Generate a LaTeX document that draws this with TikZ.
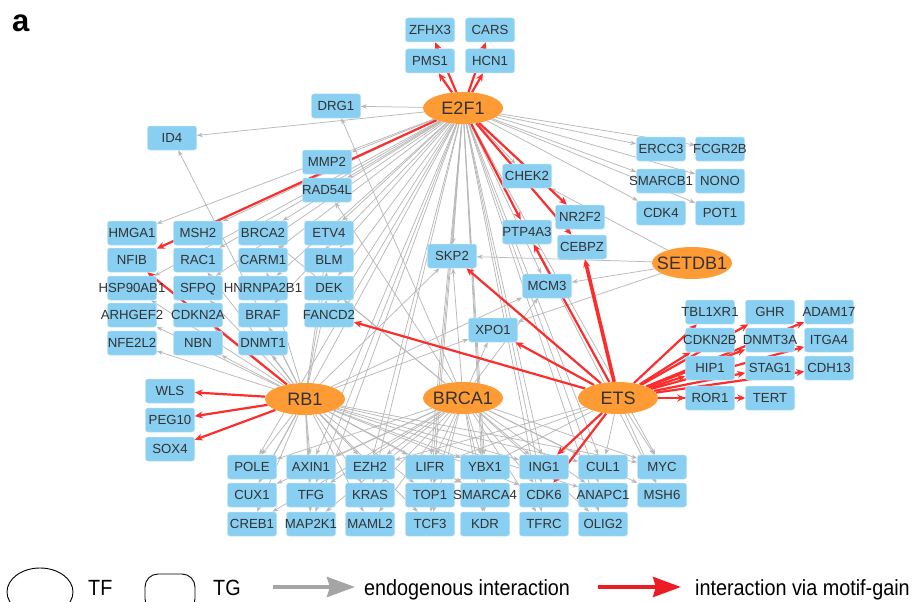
\documentclass[tikz,border=0pt]{standalone}
\usepackage{fontspec}
\setmainfont{Liberation Sans}
\newfontfamily\legendfont[FakeStretch=0.9]{Liberation Sans}
\usetikzlibrary{shapes.geometric,arrows.meta}
\definecolor{tgblue}{RGB}{137,207,241}
\definecolor{tforange}{RGB}{255,155,52}
\definecolor{labelgray}{RGB}{50,50,50}
\definecolor{endogray}{RGB}{184,184,184}
\definecolor{gainred}{RGB}{252,45,45}
\definecolor{keygray}{RGB}{165,165,165}
\definecolor{keyred}{RGB}{237,28,36}
\def\bw{49pt}
\def\bh{24pt}
\def\lbl#1{\makebox[0pt]{#1}}
\tikzset{
  tg/.style={rectangle, rounded corners=2.5pt, fill=tgblue, draw=tgblue!60!white, line width=0.5pt,
    minimum width=\bw, minimum height=\bh, inner sep=0pt, text=labelgray,
    text height=9.5pt, text depth=0pt, font=\fontsize{13.2}{15}\selectfont},
  tf/.style={ellipse, fill=tforange, minimum width=80pt, minimum height=32pt, inner sep=0pt,
    text=labelgray, text height=13pt, text depth=0pt, font=\fontsize{18}{20}\selectfont},
  endo/.style={draw=endogray, line width=0.75pt, -{Stealth[length=6pt,width=4.5pt]}},
  gain/.style={draw=gainred, line width=2.2pt, -{Stealth[length=8pt,width=7pt]}},
}
\pgfdeclarelayer{bg}
\pgfsetlayers{bg,main}

\begin{document}
\begin{tikzpicture}[x=1pt,y=-1pt]
  \useasboundingbox (0,0) rectangle (916,602);

  % panel letter
  \node[anchor=base west, inner sep=0pt, font=\bfseries\fontsize{31}{31}\selectfont] (panel) at (12,32) {a};

  % transcription factors
  \node[tf] (E2F1) at (463,108) {\lbl{E2F1}};
  \node[tf] (SETDB1) at (692,263) {\lbl{SETDB1}};
  \node[tf] (RB1) at (305,399) {\lbl{RB1}};
  \node[tf] (BRCA1) at (463,398) {\lbl{BRCA1}};
  \node[tf] (ETS) at (618,398) {\lbl{ETS}};

  % target genes, top
  \foreach \g/\x/\y in {ZFHX3/430/30, CARS/490/30, PMS1/430/61, HCN1/490/61,
      DRG1/336/106, ID4/172/138, MMP2/327/162, RAD54L/327/190,
      ERCC3/661/149, FCGR2B/720/149, SMARCB1/661/181, NONO/720/181, CDK4/661/213, POT1/720/213,
      CHEK2/527/176, NR2F2/580/217, PTP4A3/527/232, CEBPZ/582/247,
      SKP2/452/256, MCM3/547/286, XPO1/493/330}
    \node[tg] (\g) at (\x,\y) {\lbl{\g}};

  % target genes, left block
  \foreach \g/\x/\y in {HMGA1/132/233, NFIB/132/260, HSP90AB1/132/288, ARHGEF2/132/315, NFE2L2/132/343,
      MSH2/198/233, RAC1/198/260, SFPQ/198/288, CDKN2A/198/315, NBN/198/343,
      BRCA2/263/233, CARM1/263/260, HNRNPA2B1/263/288, BRAF/263/315, DNMT1/263/343,
      ETV4/329/233, BLM/329/260, DEK/329/288, FANCD2/329/315,
      WLS/170/391, PEG10/170/420, SOX4/170/449}
    \node[tg] (\g) at (\x,\y) {\lbl{\g}};

  % target genes, right block
  \foreach \g/\x/\y in {TBL1XR1/710/312, GHR/770/312, ADAM17/829/312,
      CDKN2B/710/340, DNMT3A/770/340, ITGA4/829/340,
      HIP1/710/368, STAG1/770/368, CDH13/829/368,
      ROR1/710/398, TERT/770/398}
    \node[tg] (\g) at (\x,\y) {\lbl{\g}};

  % target genes, bottom block
  \foreach \g/\x/\y in {POLE/252/467, CUX1/252/495, CREB1/252/524,
      AXIN1/311/467, TFG/311/495, MAP2K1/311/524,
      EZH2/370/467, KRAS/370/495, MAML2/370/524,
      LIFR/430/467, TOP1/430/495, TCF3/430/524,
      YBX1/485/467, SMARCA4/485/495, KDR/485/524,
      ING1/544/467, CDK6/544/495, TFRC/544/524,
      CUL1/603/467, ANAPC1/603/495, OLIG2/603/524,
      MYC/662/467, MSH6/662/495}
    \node[tg] (\g) at (\x,\y) {\lbl{\g}};

  \begin{pgfonlayer}{bg}
    % endogenous interactions
    \foreach \t in {DRG1,ID4,HMGA1,MMP2,RAD54L,CHEK2,ERCC3,FCGR2B,SMARCB1,NONO,CDK4,POT1,
        SKP2,MCM3,MSH2,RAC1,BRCA2,CARM1,ETV4,BLM,HNRNPA2B1,DEK,FANCD2,SFPQ,BRAF,HSP90AB1,
        POLE,AXIN1,TFG,EZH2,KRAS,LIFR,TOP1,TCF3,YBX1,SMARCA4,KDR,ING1,CDK6,TFRC,
        CUL1,ANAPC1,OLIG2,MYC,MSH6,CUX1,MAP2K1}
      \draw[endo] (E2F1) -- (\t);
    \foreach \t in {ID4,HSP90AB1,ARHGEF2,NFE2L2,NBN,CDKN2A,SFPQ,RAC1,CARM1,DEK,BLM,ETV4,
        SKP2,MCM3,XPO1,DNMT1,BRAF,POLE,CUX1,CREB1,AXIN1,TFG,MAP2K1,EZH2,KRAS,MAML2,
        LIFR,TOP1,TCF3,YBX1,SMARCA4,ING1,CDK6,CUL1,ANAPC1,MYC}
      \draw[endo] (RB1) -- (\t);
    \foreach \t in {DRG1,RAD54L,SKP2,XPO1,MCM3,BRCA2,DEK,POLE,AXIN1,CUX1,TFG,EZH2,KRAS,
        MAML2,LIFR,TOP1,TCF3,YBX1,SMARCA4,KDR,ING1,CDK6,TFRC,CUL1,ANAPC1,OLIG2,MYC,MSH6,
        CREB1,MAP2K1}
      \draw[endo] (BRCA1) -- (\t);
    \foreach \t in {MYC,MSH6,CUL1,EZH2,LIFR,TOP1}
      \draw[endo] (ETS) -- (\t);
    \foreach \t in {CHEK2,SKP2,MCM3,XPO1}
      \draw[endo] (SETDB1) -- (\t);

    % interactions via motif-gain
    \foreach \t in {ZFHX3,PMS1,CARS,HCN1,NFIB,NR2F2,PTP4A3,CEBPZ}
      \draw[gain] (E2F1) -- (\t);
    \foreach \t in {WLS,PEG10,SOX4,NFIB}
      \draw[gain] (RB1) -- (\t);
    \foreach \t in {FANCD2,SKP2,XPO1,PTP4A3,ING1,CDK6,TBL1XR1,CDKN2B,HIP1,ROR1,
        GHR,DNMT3A,STAG1,TERT,ADAM17,ITGA4,CDH13}
      \draw[gain] (ETS) -- (\t);
    \draw[gain, line width=3.6pt] (ETS) -- (CEBPZ);
  \end{pgfonlayer}

  % legend
  \draw[line width=0.9pt] (40,592) ellipse (33pt and 24pt);
  \node[anchor=base west, inner sep=0pt, font=\legendfont\fontsize{22}{24}\selectfont] (keytf) at (88,595) {TF};
  \draw[line width=0.9pt, rounded corners=13pt] (145,574) rectangle (195,612);
  \node[anchor=base west, inner sep=0pt, font=\legendfont\fontsize{22}{24}\selectfont] (keytg) at (213,595) {TG};
  \coordinate (endoA) at (273,587);
  \coordinate (endoB) at (355,587);
  \draw[keygray, line width=4pt, -{Stealth[length=28pt,width=20pt,inset=3pt]}] (endoA) -- (endoB);
  \node[anchor=base west, inner sep=0pt, font=\legendfont\fontsize{22}{24}\selectfont] (keyendo) at (364,595) {endogenous interaction};
  \coordinate (gainA) at (598,587);
  \coordinate (gainB) at (681,587);
  \draw[keyred, line width=4pt, -{Stealth[length=28pt,width=20pt,inset=3pt]}] (gainA) -- (gainB);
  \node[anchor=base west, inner sep=0pt, font=\legendfont\fontsize{22}{24}\selectfont] (keygain) at (695,595) {interaction via motif-gain};
\end{tikzpicture}
\end{document}
